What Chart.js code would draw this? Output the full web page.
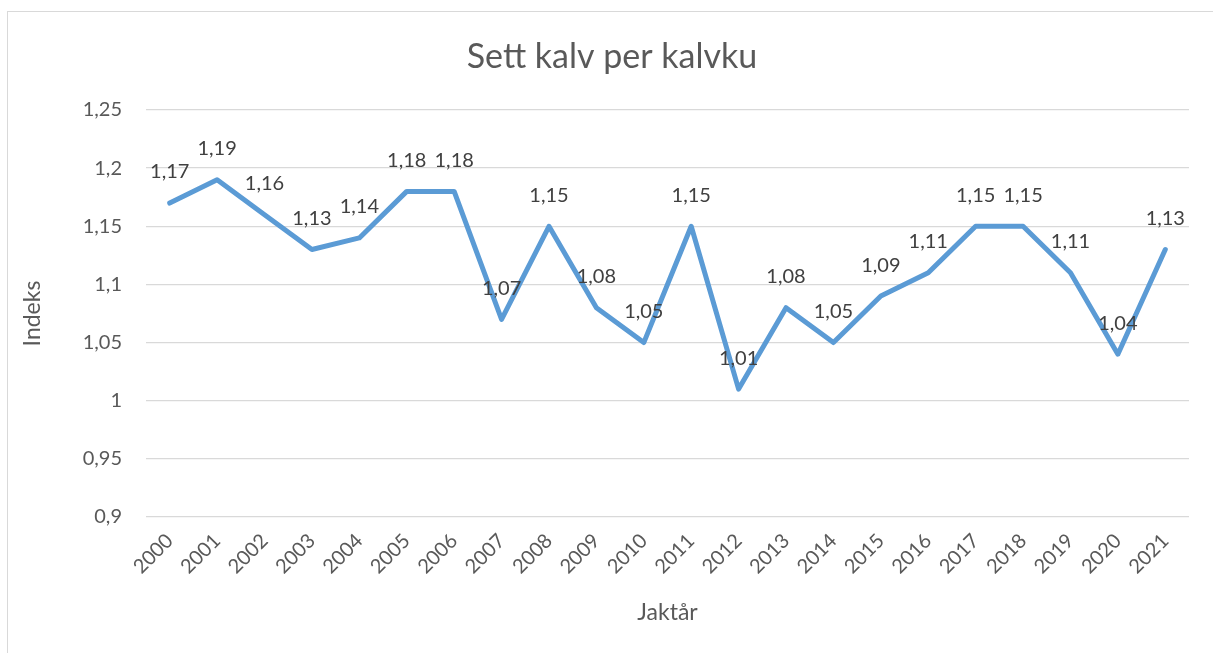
<!DOCTYPE html>
<html>
<head>
<meta charset="utf-8">
<script src="https://cdn.jsdelivr.net/npm/chart.js@4/dist/chart.umd.min.js"></script>
<style>
  html, body { margin: 0; padding: 0; background: #ffffff; overflow: hidden; }
  #wrap { position: relative; width: 1213px; height: 653px; }
  #frame { position: absolute; left: 7px; top: 11px; width: 1230px; height: 660px; border: 1px solid #d9d9d9; box-sizing: border-box; }
  canvas { position: absolute; left: 0; top: 0; }
</style>
</head>
<body>
<div id="wrap">
  <div id="frame"></div>
  <canvas id="c" width="1213" height="653"></canvas>
</div>
<script>
const years = ['2000','2001','2002','2003','2004','2005','2006','2007','2008','2009','2010','2011','2012','2013','2014','2015','2016','2017','2018','2019','2020','2021'];
const calvesPerCow = [1.17,1.19,1.16,1.13,1.14,1.18,1.18,1.07,1.15,1.08,1.05,1.15,1.01,1.08,1.05,1.09,1.11,1.15,1.15,1.11,1.04,1.13];
const yTickValues = [0.9,0.95,1,1.05,1.1,1.15,1.2,1.25];
const yTickLabels = ['0,9','0,95','1','1,05','1,1','1,15','1,2','1,25'];
const chartTitle = 'Sett kalv per kalvku';
const xTitle = 'Jaktår';
const yTitle = 'Indeks';

const FONT = 'Lato, "Open Sans", "Liberation Sans", sans-serif';

const labelPlugin = {
  id: 'pointLabels',
  afterDatasetsDraw(chart) {
    const ctx = chart.ctx;
    const meta = chart.getDatasetMeta(0);
    ctx.save();
    ctx.font = '20px ' + FONT;
    ctx.fillStyle = '#404040';
    ctx.textAlign = 'center';
    ctx.textBaseline = 'middle';
    meta.data.forEach((pt, i) => {
      const txt = String(calvesPerCow[i]).replace('.', ',');
      ctx.fillText(txt, pt.x, pt.y - 31);
    });
    ctx.restore();
  }
};

const titlePlugin = {
  id: 'centeredTitle',
  afterDraw(chart) {
    const ctx = chart.ctx;
    ctx.save();
    ctx.font = '34px ' + FONT;
    ctx.fillStyle = '#595959';
    ctx.textAlign = 'center';
    ctx.textBaseline = 'middle';
    ctx.fillText(chartTitle, 612, 57);
    ctx.restore();
  }
};

new Chart(document.getElementById('c'), {
  type: 'line',
  data: {
    labels: years,
    datasets: [{
      data: calvesPerCow,
      borderColor: '#5b9bd5',
      borderWidth: 5,
      pointRadius: 0,
      pointHoverRadius: 0,
      tension: 0,
      borderCapStyle: 'round',
      borderJoinStyle: 'round',
      fill: false
    }]
  },
  options: {
    responsive: false,
    animation: false,
    devicePixelRatio: 1,
    layout: { padding: { left: 0, right: 24, top: 110, bottom: 0 } },
    plugins: {
      legend: { display: false },
      tooltip: { enabled: false },
      title: { display: false }
    },
    scales: {
      x: {
        offset: true,
        grid: { display: false, drawTicks: false },
        border: { display: false },
        ticks: {
          color: '#595959',
          font: { family: FONT, size: 20 },
          minRotation: 45,
          maxRotation: 45,
          padding: 12,
          autoSkip: false
        },
        title: {
          display: true,
          text: xTitle,
          color: '#595959',
          font: { family: FONT, size: 23 },
          padding: { top: 0, bottom: 27 }
        },
        afterFit(scale) { scale.height = 653 - 517; }
      },
      y: {
        min: 0.9,
        max: 1.25,
        afterBuildTicks(scale) { scale.ticks = yTickValues.map(v => ({ value: v })); },
        grid: { color: '#d9d9d9', lineWidth: 1.3, drawTicks: false },
        border: { display: false },
        ticks: {
          color: '#595959',
          font: { family: FONT, size: 20 },
          padding: 24,
          callback(value) {
            const idx = yTickValues.findIndex(v => Math.abs(v - value) < 1e-9);
            return idx >= 0 ? yTickLabels[idx] : '';
          }
        },
        title: {
          display: true,
          text: yTitle,
          color: '#595959',
          font: { family: FONT, size: 23 },
          padding: { top: 19, bottom: 0 }
        },
        afterFit(scale) { scale.width = 146; }
      }
    }
  },
  plugins: [labelPlugin, titlePlugin]
});
</script>
</body>
</html>
